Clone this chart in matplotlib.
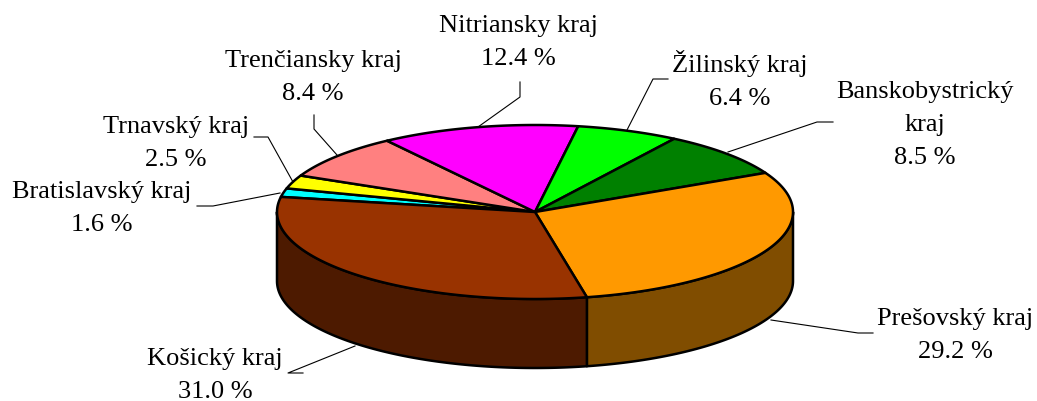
import numpy as np
import matplotlib
matplotlib.use("Agg")
import matplotlib.pyplot as plt

# share of regions (%)
regions = ["Bratislavský kraj", "Trnavský kraj", "Trenčiansky kraj", "Nitriansky kraj",
           "Žilinský kraj", "Banskobystrický kraj", "Prešovský kraj", "Košický kraj"]
shares = [1.6, 2.5, 8.4, 12.4, 6.4, 8.5, 29.2, 31.0]
top_colors = ["#00FFFF", "#FFFF00", "#FF8080", "#FF00FF",
              "#00FF00", "#008000", "#FF9900", "#993300"]

# label text lines for each slice
label_lines = [
    ["Bratislavský kraj", "1.6 %"],
    ["Trnavský kraj", "2.5 %"],
    ["Trenčiansky kraj", "8.4 %"],
    ["Nitriansky kraj", "12.4 %"],
    ["Žilinský kraj", "6.4 %"],
    ["Banskobystrický", "kraj", "8.5 %"],
    ["Prešovský kraj", "29.2 %"],
    ["Košický kraj", "31.0 %"],
]

# layout (pixels)
cx, cy = 535, 212
a, b = 258, 87
depth = 69
first_slice_angle = 280  # clockwise from 12 o'clock

label_pos = [(102, 198), (176, 133), (313, 67), (518, 32),
             (740, 72), (925, 98), (955, 325), (215, 365)]
line_step = 33
leaders = [
    [(197, 206), (213, 206), (280, 193)],
    [(254, 137), (268, 137), (293, 182)],
    [(314, 115), (314, 129), (337, 155)],
    [(520, 82), (520, 97), (478, 127)],
    [(668, 79), (653, 79), (627, 130)],
    [(833, 122), (817, 122), (728, 152)],
    [(873, 333), (858, 333), (771, 320)],
    [(303, 373), (288, 373), (355, 346)],
]


def darker(c, f=0.5):
    r, g, bl = matplotlib.colors.to_rgb(c)
    return (r * f, g * f, bl * f)


def ell(t):
    t = np.radians(t)
    return cx + a * np.cos(t), cy - b * np.sin(t)


fig = plt.figure(figsize=(10.37, 4.01), dpi=100)
ax = fig.add_axes([0, 0, 1, 1])
ax.set_xlim(0, 1037)
ax.set_ylim(401, 0)
ax.axis("off")

start = 90 - first_slice_angle
cum = np.concatenate([[0], np.cumsum(shares)]) / sum(shares) * 360
angles = [(start - cum[i], start - cum[i + 1]) for i in range(len(shares))]

# side walls (front half only)
for (t0, t1), col in zip(angles, top_colors):
    lo, hi = min(t0, t1), max(t0, t1)
    for k in (-720, -360, 0, 360):
        vlo, vhi = max(lo, -180 + k), min(hi, 0 + k)
        if vhi <= vlo:
            continue
        ts = np.linspace(vlo, vhi, 120)
        xs, ys = ell(ts)
        px = np.concatenate([xs, xs[::-1]])
        py = np.concatenate([ys, ys[::-1] + depth])
        ax.fill(px, py, facecolor=darker(col), edgecolor="black",
                linewidth=1.8, joinstyle="round", zorder=2)

# top wedges
for (t0, t1), col in zip(angles, top_colors):
    ts = np.linspace(t0, t1, 200)
    xs, ys = ell(ts)
    px = np.concatenate([[cx], xs, [cx]])
    py = np.concatenate([[cy], ys, [cy]])
    ax.fill(px, py, facecolor=col, edgecolor="black",
            linewidth=1.8, joinstyle="round", zorder=3)

# labels and leader lines
for lines, (lx, ly), pts in zip(label_lines, label_pos, leaders):
    for j, s in enumerate(lines):
        ax.text(lx, ly + j * line_step, s, ha="center", va="baseline",
                fontsize=19, family="Liberation Serif", color="black")
    xs, ys = zip(*pts)
    ax.plot(xs, ys, color="black", linewidth=0.8, zorder=4)

fig.savefig("out.png", dpi=100)
